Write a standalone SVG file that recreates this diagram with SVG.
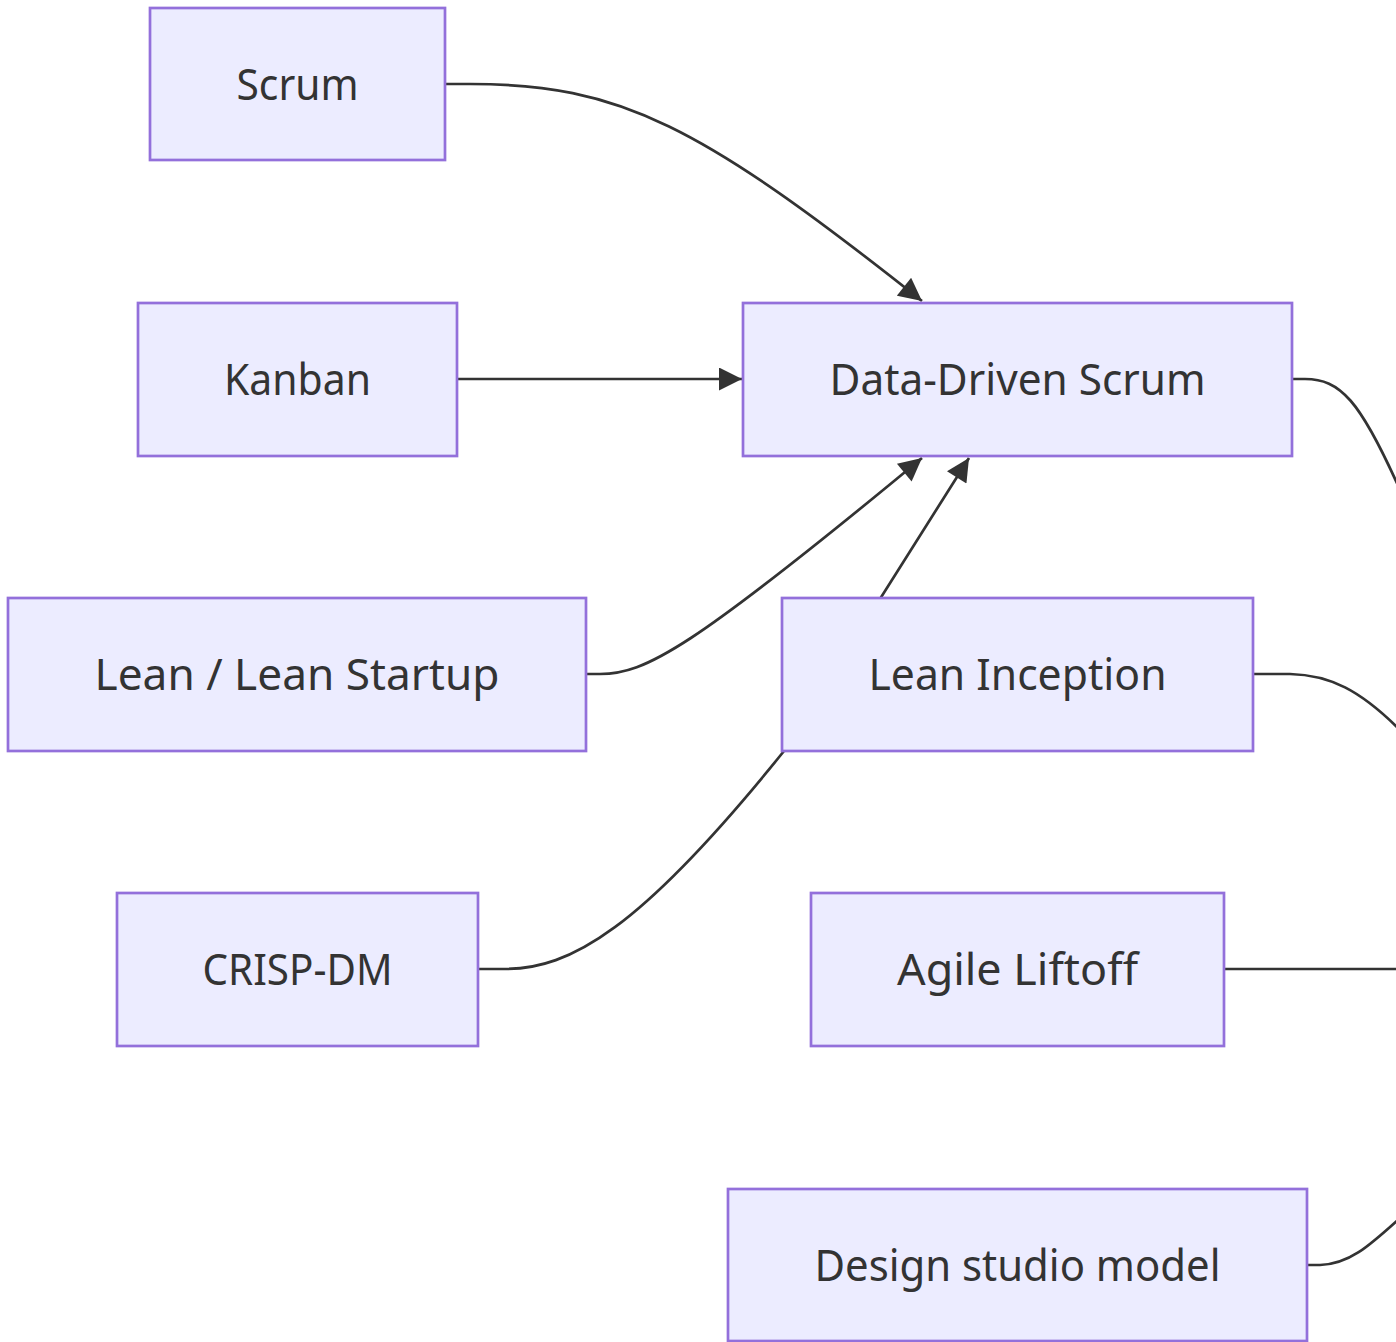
<svg xmlns="http://www.w3.org/2000/svg" width="1396" height="1342" viewBox="0 0 1396 1342">
<style>
.node rect{fill:#ECECFF;stroke:#9370DB;stroke-width:2.7}
.node text{fill:#333;font-family:"Noto Sans","Open Sans","DejaVu Sans",sans-serif;font-size:43px;text-anchor:middle}
.edge{fill:none;stroke:#333;stroke-width:2.7}
</style>
<defs>
<marker id="arrow" viewBox="0 0 10 10" refX="10" refY="5" markerUnits="userSpaceOnUse" markerWidth="25" markerHeight="23" orient="auto">
<path d="M0,0 L10,5 L0,10 z" fill="#333"/>
</marker>
</defs>
<rect width="1396" height="1342" fill="#fff"/>
<g id="connectors">
<path class="edge" d="M446,84 L470,84 C620,84 700,125 922,301" marker-end="url(#arrow)"/>
<path class="edge" d="M458,379 L742,379" marker-end="url(#arrow)"/>
<path class="edge" d="M587,674 L600,674 C645,674 690,650 922,458" marker-end="url(#arrow)"/>
<path class="edge" d="M479,969 L505,969 C570,969 640,930 784,751 L969,458" marker-end="url(#arrow)"/>
<path class="edge" d="M1293,379 L1305,379 C1340,379 1360,400 1400,490 L1460,640"/>
<path class="edge" d="M1254,674 L1290,674 C1330,675 1360,690 1400,730 L1460,800"/>
<path class="edge" d="M1225,969 L1400,969"/>
<path class="edge" d="M1308,1265 L1320,1265 C1350,1264 1370,1245 1400,1218 L1460,1160"/>
</g>
<g id="scrum" class="node"><rect x="150" y="8" width="295" height="152"/><text x="297.5" y="100" textLength="122" lengthAdjust="spacingAndGlyphs">Scrum</text></g>
<g id="kanban" class="node"><rect x="138" y="303" width="319" height="153"/><text x="297.5" y="395" textLength="147" lengthAdjust="spacingAndGlyphs">Kanban</text></g>
<g id="lean" class="node"><rect x="8" y="598" width="578" height="153"/><text x="297" y="690" textLength="405" lengthAdjust="spacingAndGlyphs">Lean / Lean Startup</text></g>
<g id="crisp" class="node"><rect x="117" y="893" width="361" height="153"/><text x="297.5" y="985" textLength="190" lengthAdjust="spacingAndGlyphs">CRISP-DM</text></g>
<g id="dds" class="node"><rect x="743" y="303" width="549" height="153"/><text x="1017.5" y="395" textLength="376" lengthAdjust="spacingAndGlyphs">Data-Driven Scrum</text></g>
<g id="leaninception" class="node"><rect x="782" y="598" width="471" height="153"/><text x="1017.5" y="690" textLength="298" lengthAdjust="spacingAndGlyphs">Lean Inception</text></g>
<g id="agileliftoff" class="node"><rect x="811" y="893" width="413" height="153"/><text x="1017.5" y="985" textLength="241" lengthAdjust="spacingAndGlyphs">Agile Liftoff</text></g>
<g id="designstudio" class="node"><rect x="728" y="1189" width="579" height="152"/><text x="1017.5" y="1281" textLength="406" lengthAdjust="spacingAndGlyphs">Design studio model</text></g>
</svg>
